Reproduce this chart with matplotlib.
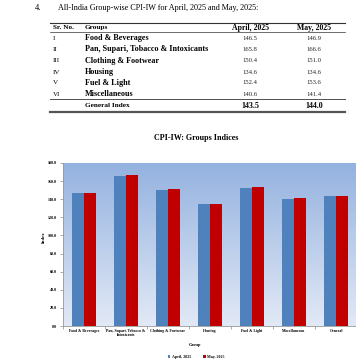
import numpy as np
import matplotlib
matplotlib.use('Agg')
import matplotlib.pyplot as plt
from matplotlib.colors import LinearSegmentedColormap
from matplotlib.lines import Line2D

# table / chart data
sr_no = ['I', 'II', 'III', 'IV', 'V', 'VI']
groups = ['Food & Beverages', 'Pan, Supari, Tobacco & Intoxicants', 'Clothing & Footwear',
          'Housing', 'Fuel & Light', 'Miscellaneous']
april = [146.5, 165.8, 150.4, 134.6, 152.4, 140.6]
may = [146.9, 166.6, 151.0, 134.6, 153.6, 141.4]
general_april = 143.5
general_may = 144.0

chart_labels = ['Food & Beverages', 'Pan, Supari, Tobacco &\nIntoxicants', 'Clothing & Footwear',
                'Housing', 'Fuel & Light', 'Miscellaneous', 'General']
chart_april = april + [general_april]
chart_may = may + [general_may]
yticks = [0, 20, 40, 60, 80, 100, 120, 140, 160, 180]

W, H = 356, 364
plt.rcParams['font.family'] = ['Liberation Serif', 'DejaVu Serif']

fig = plt.figure(figsize=(W / 100, H / 100), dpi=100)


def P(x, y):
    # pixel position -> figure fraction
    return x / W, 1 - y / H


def hline(x0, x1, y, lw=0.6, color='#333333'):
    fig.add_artist(Line2D([x0 / W, x1 / W], [1 - y / H, 1 - y / H], lw=lw, color=color))


# heading
fig.text(*P(35, 7.5), '4.', fontsize=6, va='center')
fig.text(*P(58, 7.5), 'All-India Group-wise CPI-IW for April, 2025 and May, 2025:', fontsize=5.9, va='center')

# table
hline(50, 345, 22.5, lw=0.8)
hline(50, 345, 31.5, lw=0.5)
hline(50, 345, 99.3, lw=0.6)
hline(50, 345, 112, lw=1.6, color='#555555')

fig.text(*P(53, 27.5), 'Sr. No.', fontsize=5.2, weight='bold', va='center')
fig.text(*P(85, 27.5), 'Groups', fontsize=5.2, weight='bold', va='center')
fig.text(*P(251, 27.5), 'April, 2025', fontsize=5.6, weight='bold', va='center', ha='center')
fig.text(*P(314, 27.5), 'May, 2025', fontsize=5.6, weight='bold', va='center', ha='center')

row_y = [38, 49.3, 60.8, 72, 83, 94.2]
for i in range(len(groups)):
    fig.text(*P(53, row_y[i]), sr_no[i], fontsize=5.0, va='center')
    fig.text(*P(85, row_y[i]), groups[i], fontsize=5.9, weight='bold', va='center')
    fig.text(*P(250, row_y[i]), f'{april[i]:.1f}', fontsize=4.8, va='center', ha='center', color='#222222')
    fig.text(*P(314, row_y[i]), f'{may[i]:.1f}', fontsize=4.8, va='center', ha='center', color='#222222')

fig.text(*P(85, 105.8), 'General Index', fontsize=5.2, weight='bold', va='center')
fig.text(*P(250, 105.8), f'{general_april:.1f}', fontsize=5.8, weight='bold', va='center', ha='center')
fig.text(*P(314, 105.8), f'{general_may:.1f}', fontsize=5.8, weight='bold', va='center', ha='center')

# chart
fig.text(*P(196, 138), 'CPI-IW: Groups Indices', fontsize=5.8, weight='bold', va='center', ha='center')

left, right, top, bottom = 63, 357, 163, 326
ax = fig.add_axes([left / W, 1 - bottom / H, (right - left) / W, (bottom - top) / H])

cmap = LinearSegmentedColormap.from_list('bg', ['#e2e9f6', '#94b2df'])
ax.imshow(np.linspace(0, 1, 256)[:, None], extent=[0, 1, 0, 1], transform=ax.transAxes,
          aspect='auto', cmap=cmap, origin='lower', zorder=0)

x = np.arange(len(chart_labels))
bw = 0.285
ax.bar(x - bw / 2, chart_april, bw, color='#4f81bd', zorder=2, label='April, 2025')
ax.bar(x + bw / 2, chart_may, bw, color='#c00000', zorder=2, label='May, 2025')

ax.set_xlim(-0.5, len(chart_labels) - 0.5)
ax.set_ylim(0, 180)
ax.set_yticks(yticks)
ax.set_yticklabels([f'{v:.1f}' for v in yticks], fontsize=3.0, weight='bold')
ax.set_xticks(x)
ax.set_xticklabels(chart_labels, fontsize=2.8, weight='bold', linespacing=1.0)
ax.set_xticks(np.arange(len(chart_labels) + 1) - 0.5, minor=True)
ax.tick_params(axis='x', which='major', length=0, pad=2.5)
ax.tick_params(axis='x', which='minor', length=2, color='#888888', width=0.5)
ax.tick_params(axis='y', length=2, color='#888888', width=0.5, pad=2.5)
for s in ['top', 'right']:
    ax.spines[s].set_visible(False)
for s in ['left', 'bottom']:
    ax.spines[s].set_color('#999999')
    ax.spines[s].set_linewidth(0.6)

fig.text(*P(44, 237), 'Index', fontsize=3.4, weight='bold', rotation=90, va='center', ha='center')
fig.text(*P(195, 345), 'Group', fontsize=3.2, weight='bold', va='center', ha='center')

fig.legend(loc='center', bbox_to_anchor=P(196, 357), ncol=2, frameon=False,
           prop={'size': 2.9, 'weight': 'bold'}, handlelength=0.7, handleheight=0.7,
           handletextpad=0.3, columnspacing=3.0)

fig.savefig('out.png', dpi=100)
